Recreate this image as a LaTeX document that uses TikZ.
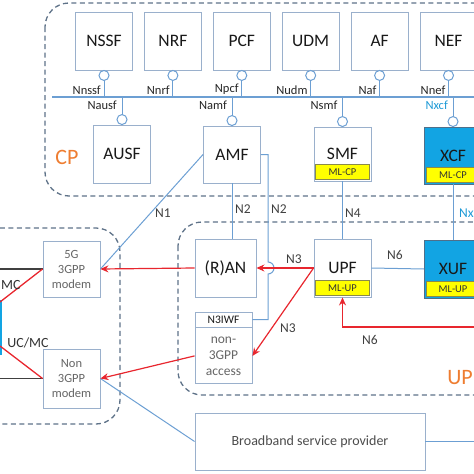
\documentclass[tikz,border=0pt]{standalone}
\usepackage{fontspec}
\setmainfont{Carlito}
\usetikzlibrary{positioning}
\usetikzlibrary{arrows.meta}
\usetikzlibrary{calc}

\definecolor{boxline}{HTML}{9AB0CC}
\definecolor{linkblue}{HTML}{6C9FD3}
\definecolor{linkred}{HTML}{E8262E}
\definecolor{zoneline}{HTML}{5E7288}
\definecolor{xcyan}{HTML}{12A4E3}
\definecolor{xedge}{HTML}{4F6F8A}
\definecolor{xlabel}{HTML}{1E9AD6}
\definecolor{mlyellow}{HTML}{FFFF00}
\definecolor{mledge}{HTML}{8A8A4A}
\definecolor{zoneorange}{HTML}{EE7D31}

\begin{document}
\begin{tikzpicture}[
  x=1pt, y=-1pt,
  nfbox/.style={draw=boxline, line width=0.9pt, fill=white, minimum width=57pt, minimum height=58pt, inner sep=0pt, text=black!90, font=\fontsize{17.5}{19}\selectfont},
  xbox/.style={nfbox, fill=xcyan, draw=xedge},
  mlbar/.style={draw=mledge, fill=mlyellow, line width=0.8pt, minimum width=54pt, minimum height=15pt, inner sep=0pt, text=black!80, font=\fontsize{10.5}{12}\selectfont},
  modem/.style={draw=boxline, line width=0.9pt, fill=white, minimum width=57pt, minimum height=56pt, inner sep=0pt, align=center, text=black!60, font=\fontsize{12.5}{15}\selectfont},
  ifl/.style={inner sep=1pt, text=black!85, font=\fontsize{12.5}{14}\selectfont},
  lnk/.style={inner sep=1pt, text=black!75, font=\fontsize{13.5}{15}\selectfont},
  zone/.style={draw=zoneline, line width=1.3pt, dash pattern=on 5pt off 3.5pt, rounded corners=24pt},
  zonelbl/.style={inner sep=0pt, text=zoneorange, font=\fontsize{22}{24}\selectfont},
  bus/.style={draw=linkblue, line width=1.2pt},
  link/.style={draw=linkblue, line width=1pt},
  redarrow/.style={draw=linkred, line width=1.2pt, -{Stealth[length=8pt, width=7pt]}},
  redline/.style={draw=linkred, line width=1.3pt},
  blkline/.style={draw=black!75, line width=1.2pt}
]
\useasboundingbox (0,0) rectangle (474,474);
\clip (0,0) rectangle (474,474);

% Zones
\draw[zone] (45,3) rectangle (520,196);
\draw[zone] (178,222) rectangle (520,395);
\draw[zone] (-40,228) rectangle (120,424);
\node[zonelbl] (cp) at (67,157) {CP};
\node[zonelbl, anchor=east] (up) at (473,378) {UP};

% Service based bus
\coordinate (busL) at (52,97);
\coordinate (busR) at (480,97);
\draw[bus] (busL) -- (busR);

% Top row of NFs
\node[nfbox] (nssf) at (104,41) {NSSF};
\node[nfbox, right=11pt of nssf] (nrf) {NRF};
\node[nfbox, right=11pt of nrf] (pcf) {PCF};
\node[nfbox, right=11pt of pcf] (udm) {UDM};
\node[nfbox, right=11pt of udm] (af) {AF};
\node[nfbox, right=11pt of af] (nef) {NEF};

% Lower control plane NFs
\node[nfbox] (ausf) at (122,154) {AUSF};
\node[nfbox, minimum height=57pt] (amf) at (232,154.5) {AMF};
\node[nfbox, minimum height=54pt] (smf) at (342.5,154) {SMF};
\node[mlbar, above=1.5pt of smf.south] (smfml) {ML-CP};
\node[xbox, minimum height=57pt] (xcf) at (453,155.5) {XCF};
\node[mlbar, above=1.5pt of xcf.south] (xcfml) {ML-CP};

% Service interfaces
\foreach \nf/\ifname in {nssf/Nnssf, nrf/Nnrf, pcf/Npcf, udm/Nudm, af/Naf, nef/Nnef}{
  \draw[link] ($(\nf.south)+(0,10)$) -- (\nf.south |- busL);
  \draw[link, fill=white] ($(\nf.south)+(0,5)$) circle[radius=5];
  \node[ifl, anchor=south east] (\nf-if) at ($(\nf.south |- busL)+(-2,-1)$) {\ifname};
}
\foreach \nf/\ifname in {ausf/Nausf, amf/Namf, smf/Nsmf}{
  \draw[link] ($(\nf.north)+(0,-10)$) -- (\nf.north |- busL);
  \draw[link, fill=white] ($(\nf.north)+(0,-5)$) circle[radius=5];
  \node[ifl, anchor=north east] (\nf-if) at ($(\nf.north |- busL)+(-4,3)$) {\ifname};
}
\draw[link] ($(xcf.north)+(0,-10)$) -- (xcf.north |- busL);
\draw[link, fill=white] ($(xcf.north)+(0,-5)$) circle[radius=5];
\node[ifl, anchor=north east, text=xlabel] (xcf-if) at ($(xcf.north |- busL)+(-4,3)$) {Nxcf};

% User plane
\node[nfbox] (upf) at (342.5,268) {UPF};
\node[mlbar, above=1.5pt of upf.south] (upfml) {ML-UP};
\node[xbox] (xuf) at (453,269) {XUF};
\node[mlbar, above=1.5pt of xuf.south] (xufml) {ML-UP};
\node[nfbox, minimum width=61pt] (ran) at (225.5,268) {(R)AN};
\node[nfbox, minimum height=15pt, font=\fontsize{11.5}{13}\selectfont] (iwf) at (223.5,319.5) {N3IWF};
\node[modem, below=0pt of iwf, minimum height=56pt, font=\fontsize{13.5}{16}\selectfont] (acc) {non-\\3GPP\\access};

% UE side
\node[modem] (modem5g) at (71.5,269) {5G\\3GPP\\modem};
\node[modem, minimum height=59pt] (modemn3) at (71.5,378.5) {Non\\3GPP\\modem};
\node[fill=xcyan, minimum width=40pt, minimum height=55pt, inner sep=0pt] (ue) at (-18,327.5) {};
\coordinate (ueA) at (-5,269);
\coordinate (ueB) at (-5,378.5);
\coordinate (ueT) at (0,302);
\coordinate (ueS) at (0,346);
\draw[blkline] (ueA) -- (modem5g.west);
\draw[blkline] (ueB) -- (modemn3.west);
\draw[redline] (ueT) -- (modem5g.west);
\draw[redline] (ueS) -- (modemn3.west);
\node[inner sep=0pt, anchor=west, text=black!80, font=\fontsize{14}{16}\selectfont] (mclbl) at (1,285) {MC};
\node[inner sep=0pt, text=black!80, font=\fontsize{14}{16}\selectfont] (ucmc) at (28,343) {UC/MC};

% Broadband
\node[modem, minimum width=230pt, minimum height=57pt, text=black!70, font=\fontsize{14}{16}\selectfont] (bsp) at (310,441.5) {Broadband service provider};
\coordinate (bspR) at (480,441.5);

% Control plane links
\draw[link] (amf.west) -- (modem5g.east);
\draw[link] (amf.south) -- (amf.south |- ran.north);
\coordinate (hop) at (268,268);
\draw[link] (amf.east) -| ($(hop)+(0,-6)$) arc[start angle=-90, end angle=90, radius=6] |- (iwf.east);
\draw[link] (smf.south) -- (upf.north);
\draw[link] (xcf.south) -- (xuf.north);
\draw[link] (upf.east) -- (xuf.west);
\draw[link] (modemn3.east) -- (bsp.west);
\draw[link] (bsp.east) -- (bspR);

% User plane paths
\coordinate (n6in) at (480,327);
\draw[redarrow] (upf.west) -- (ran.east);
\draw[redarrow] (upf.west) -- (acc.east);
\draw[redarrow] (ran.west) -- (modem5g.east);
\draw[redarrow] (acc.west) -- (modemn3.east);
\draw[redarrow] (n6in) -| (upf.south);

% Reference point labels
\node[lnk] (lN1) at (163,213) {N1};
\node[lnk] (lN2a) at (243,209) {N2};
\node[lnk] (lN2b) at (279,209) {N2};
\node[lnk] (lN4) at (353,213) {N4};
\node[lnk, anchor=west, text=xlabel] (lNx) at (458,213) {Nx};
\node[lnk] (lN3a) at (294,259) {N3};
\node[lnk] (lN3b) at (288,328) {N3};
\node[lnk] (lN6a) at (395,255) {N6};
\node[lnk] (lN6b) at (370,340) {N6};

\end{tikzpicture}
\end{document}
